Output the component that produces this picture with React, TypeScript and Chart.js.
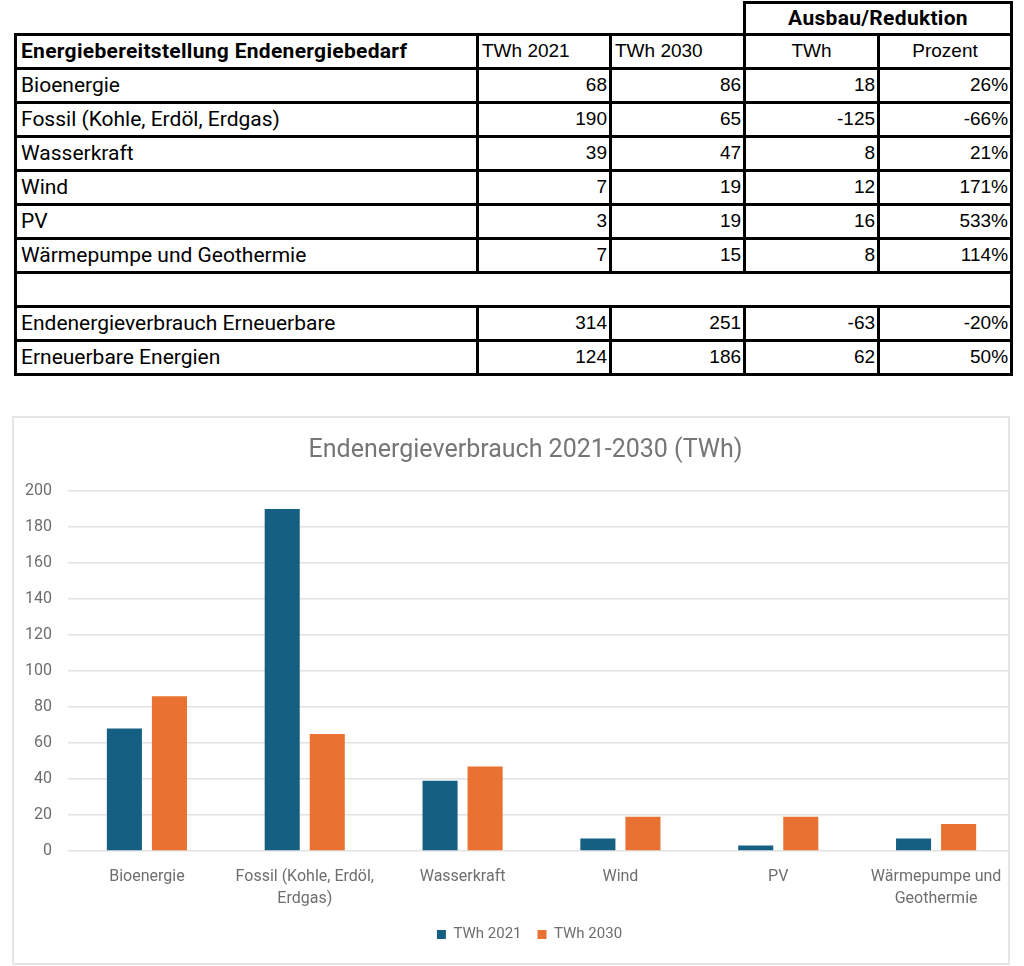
import React, { useEffect, useRef } from "react";
import { Chart, registerables } from "chart.js";

Chart.register(...registerables);

const categories = [
  "Bioenergie",
  "Fossil (Kohle, Erdöl, Erdgas)",
  "Wasserkraft",
  "Wind",
  "PV",
  "Wärmepumpe und Geothermie",
];
const chartLabels: (string | string[])[] = [
  "Bioenergie",
  ["Fossil (Kohle, Erdöl,", "Erdgas)"],
  "Wasserkraft",
  "Wind",
  "PV",
  ["Wärmepumpe und", "Geothermie"],
];
const twh2021 = [68, 190, 39, 7, 3, 7];
const twh2030 = [86, 65, 47, 19, 19, 15];
const deltaTwh = [18, -125, 8, 12, 16, 8];
const deltaPct = ["26%", "-66%", "21%", "171%", "533%", "114%"];

const summaryLabels = ["Endenergieverbrauch Erneuerbare", "Erneuerbare Energien"];
const summary2021 = [314, 124];
const summary2030 = [251, 186];
const summaryDelta = [-63, 62];
const summaryPct = ["-20%", "50%"];

const headerLabels = ["Energiebereitstellung Endenergiebedarf", "TWh 2021", "TWh 2030", "TWh", "Prozent"];
const groupHeader = "Ausbau/Reduktion";
const seriesNames = ["TWh 2021", "TWh 2030"];
const chartTitle = "Endenergieverbrauch 2021-2030 (TWh)";
const yTicks = { min: 0, max: 200, step: 20 };

const BLUE = "#156082";
const ORANGE = "#E97132";

const BORDER = "3px solid #000";
const labelFont = "Roboto, 'Noto Sans', sans-serif";
const numFont = "'Liberation Sans', Arial, sans-serif";

const cellBase: React.CSSProperties = {
  border: BORDER,
  height: 31,
  padding: "0 3px",
  fontSize: 19,
  fontFamily: numFont,
  color: "#000",
  whiteSpace: "nowrap",
  overflow: "hidden",
};
const labelCell: React.CSSProperties = { ...cellBase, fontFamily: labelFont, fontSize: 21, textAlign: "left", paddingLeft: 4 };
const numCell: React.CSSProperties = { ...cellBase, textAlign: "right", paddingRight: 2 };

function DataTable() {
  const rows = categories.map((c, i) => [c, twh2021[i], twh2030[i], deltaTwh[i], deltaPct[i]]);
  const sums = summaryLabels.map((c, i) => [c, summary2021[i], summary2030[i], summaryDelta[i], summaryPct[i]]);
  const renderRow = (r: (string | number)[], k: string) => (
    <tr key={k}>
      <td style={labelCell}>{r[0]}</td>
      <td style={numCell}>{r[1]}</td>
      <td style={numCell}>{r[2]}</td>
      <td style={numCell}>{r[3]}</td>
      <td style={numCell}>{r[4]}</td>
    </tr>
  );
  return (
    <table
      style={{
        position: "absolute",
        left: 14,
        top: 1,
        width: 996,
        borderCollapse: "collapse",
        tableLayout: "fixed",
      }}
    >
      <colgroup>
        <col style={{ width: 462 }} />
        <col style={{ width: 133 }} />
        <col style={{ width: 134 }} />
        <col style={{ width: 134 }} />
        <col style={{ width: 133 }} />
      </colgroup>
      <tbody>
        <tr>
          <td colSpan={3} style={{ border: "none", height: 28 }} />
          <td
            colSpan={2}
            style={{
              ...cellBase,
              height: 28,
              textAlign: "center",
              fontFamily: labelFont,
              fontWeight: 700,
              fontSize: 21,
              letterSpacing: 0.3,
            }}
          >
            {groupHeader}
          </td>
        </tr>
        <tr>
          <td style={{ ...labelCell, fontWeight: 700, fontSize: 21, letterSpacing: 0.3 }}>{headerLabels[0]}</td>
          <td style={{ ...cellBase, textAlign: "left" }}>{headerLabels[1]}</td>
          <td style={{ ...cellBase, textAlign: "left" }}>{headerLabels[2]}</td>
          <td style={{ ...cellBase, textAlign: "center" }}>{headerLabels[3]}</td>
          <td style={{ ...cellBase, textAlign: "center" }}>{headerLabels[4]}</td>
        </tr>
        {rows.map((r, i) => renderRow(r, "r" + i))}
        <tr>
          <td colSpan={5} style={{ ...cellBase }} />
        </tr>
        {sums.map((r, i) => renderRow(r, "s" + i))}
      </tbody>
    </table>
  );
}

const shiftBoxes = {
  id: "shiftBoxes",
  afterLayout(chart: any) {
    if (chart.titleBlock) {
      chart.titleBlock.left += 12;
      chart.titleBlock.right += 12;
    }
    if (chart.legend) {
      chart.legend.left += 16;
      chart.legend.right += 16;
    }
  },
};

function BarChart() {
  const ref = useRef<HTMLCanvasElement | null>(null);
  useEffect(() => {
    if (!ref.current) return;
    const chart = new Chart(ref.current, {
      type: "bar",
      data: {
        labels: chartLabels,
        datasets: [
          {
            label: seriesNames[0],
            data: twh2021,
            backgroundColor: BLUE,
            categoryPercentage: 0.571,
            barPercentage: 0.778,
          },
          {
            label: seriesNames[1],
            data: twh2030,
            backgroundColor: ORANGE,
            categoryPercentage: 0.571,
            barPercentage: 0.778,
          },
        ],
      },
      plugins: [shiftBoxes],
      options: {
        responsive: false,
        animation: false,
        devicePixelRatio: 1,
        layout: { padding: { left: 0, right: 7, top: 0, bottom: 12 } },
        plugins: {
          title: {
            display: true,
            text: chartTitle,
            color: "#767676",
            font: { family: labelFont, size: 25, weight: "normal", lineHeight: 1.2 },
            padding: { top: 20, bottom: 25 },
          },
          legend: {
            position: "bottom",
            labels: {
              boxWidth: 9,
              boxHeight: 9,
              padding: 16,
              color: "#6e6e6e",
              font: { family: labelFont, size: 15 },
            },
          },
          tooltip: { enabled: false },
        },
        scales: {
          x: {
            grid: { display: false },
            border: { display: false },
            ticks: {
              color: "#6e6e6e",
              padding: 7,
              maxRotation: 0,
              autoSkip: false,
              font: { family: labelFont, size: 16, lineHeight: 1.375 },
            },
            afterFit: (s: any) => {
              s.height = 60;
            },
          },
          y: {
            min: yTicks.min,
            max: yTicks.max,
            grid: { color: "#e2e2e2", lineWidth: 1.5, drawTicks: false },
            border: { display: false },
            ticks: {
              stepSize: yTicks.step,
              color: "#6e6e6e",
              padding: 16,
              font: { family: labelFont, size: 16 },
            },
            afterFit: (s: any) => {
              s.width = 56;
            },
          },
        },
      },
    });
    return () => chart.destroy();
  }, []);
  return (
    <div
      style={{
        position: "absolute",
        left: 12,
        top: 416,
        width: 998,
        height: 549,
        border: "2px solid #e6e6e6",
        boxSizing: "border-box",
        overflow: "hidden",
      }}
    >
      <canvas
        ref={ref}
        width={1010}
        height={548}
        style={{ position: "absolute", left: -2, top: -2, width: 1010, height: 548 }}
      />
    </div>
  );
}

export default function App() {
  return (
    <div style={{ position: "relative", width: 1024, height: 966, background: "#fff" }}>
      <style>{"body{margin:0;background:#fff}"}</style>
      <DataTable />
      <BarChart />
    </div>
  );
}
